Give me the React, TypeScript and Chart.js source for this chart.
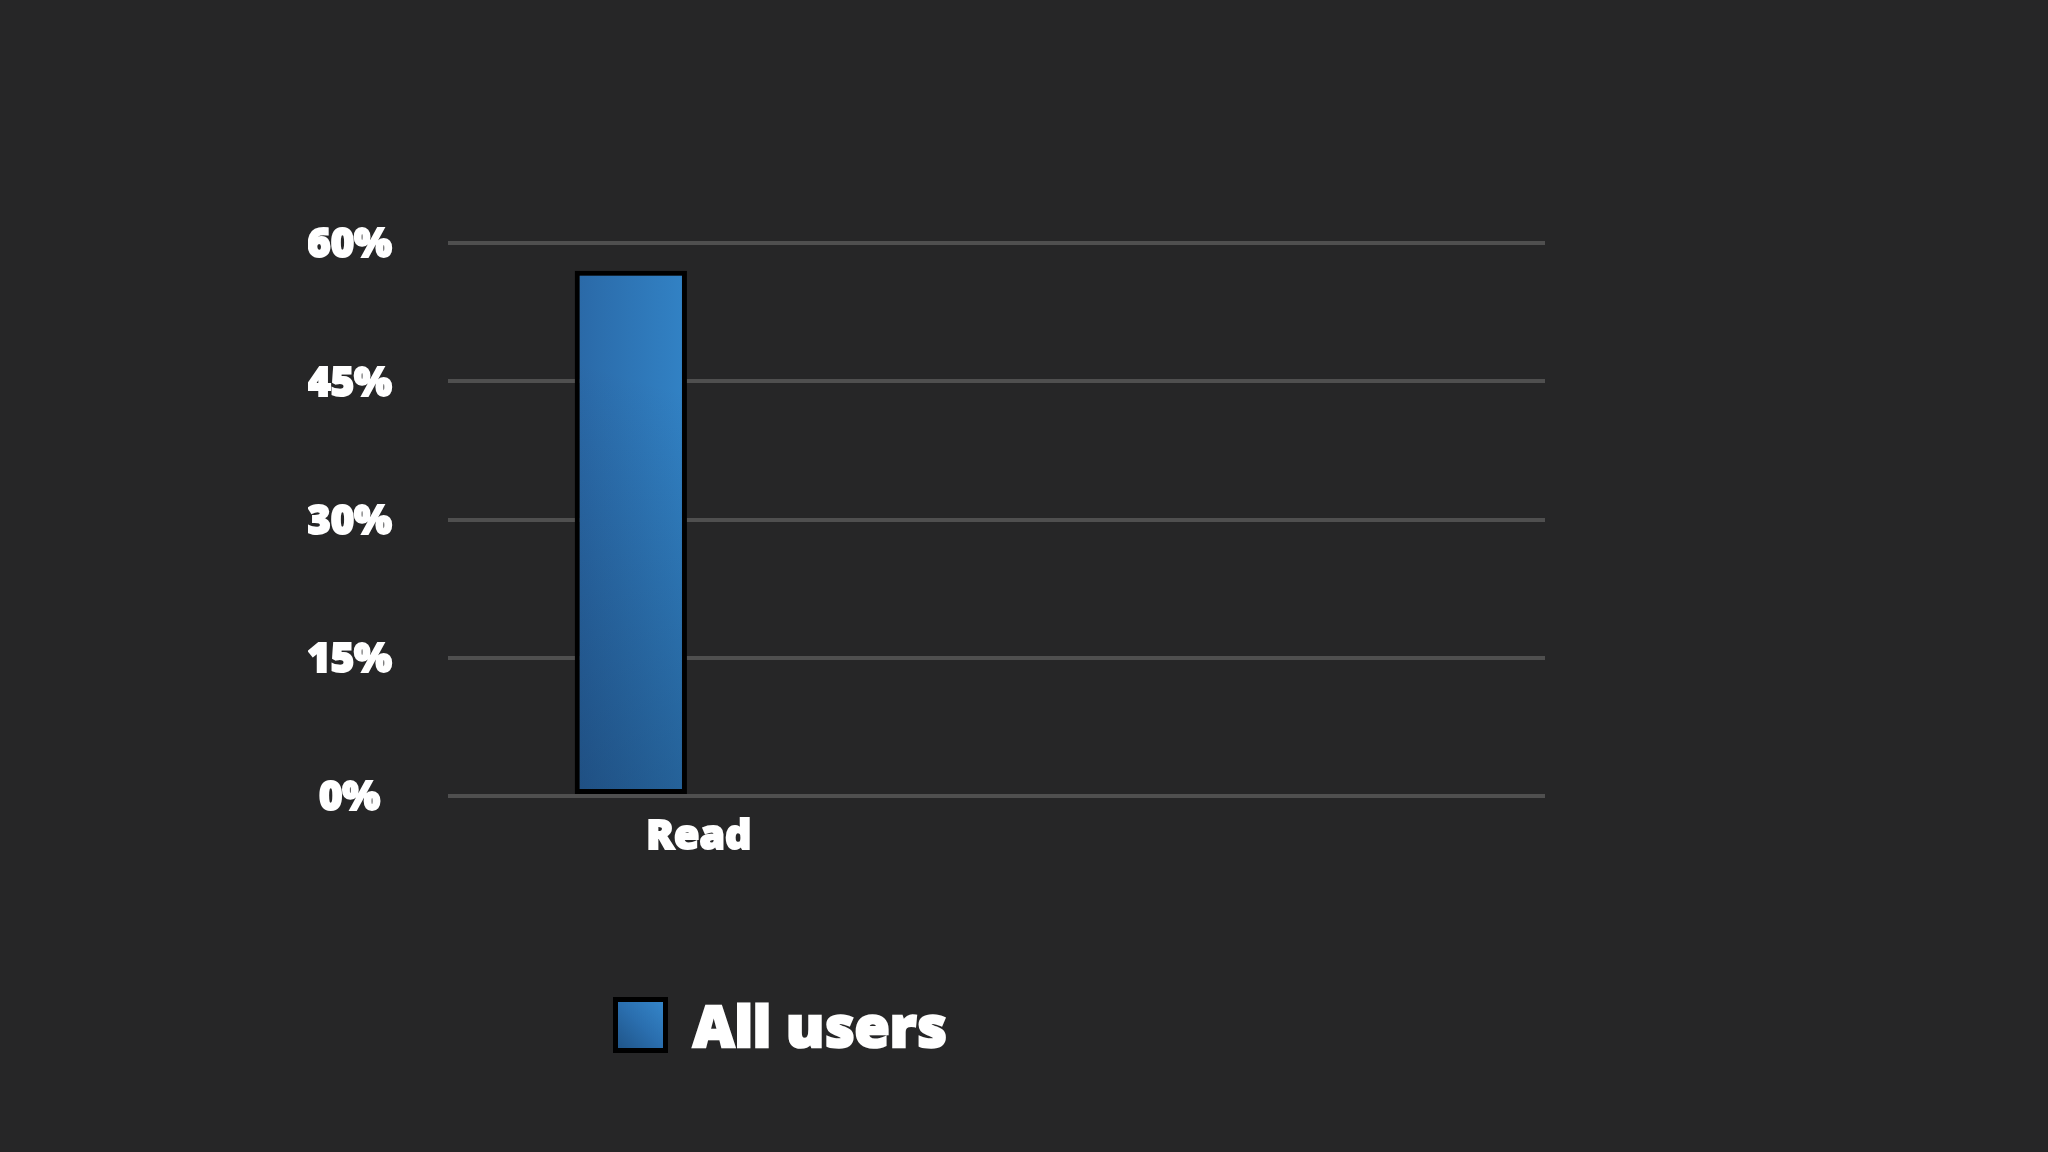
import React, { useEffect, useRef } from 'react';
import Chart from 'chart.js/auto';

// values
const categories = ['Read', '', ''];
const allUsers = [57, null, null];
const yTicks = [0, 15, 30, 45, 60];
const seriesName = 'All users';

const FONT = '"Open Sans ExtraBold", "Open Sans", "Noto Sans", sans-serif';

// blue fill: lighter to the right, darker towards the bottom left
function barPattern(chart: any, index: number) {
  const xs = chart.scales.x;
  const ys = chart.scales.y;
  if (!chart.chartArea || !xs || !ys) return '#2a6eae';
  const xc = xs.getPixelForValue(index);
  const half = (xs.width / categories.length) * 0.16;
  const top = ys.top;
  const bottom = ys.bottom;
  if (![xc, half, top, bottom].every(Number.isFinite) || half <= 0) return '#2a6eae';
  const off = document.createElement('canvas');
  off.width = chart.width;
  off.height = chart.height;
  const c = off.getContext('2d') as CanvasRenderingContext2D;
  const h = c.createLinearGradient(xc - half, 0, xc + half, 0);
  h.addColorStop(0, '#2a68a6');
  h.addColorStop(1, '#3283c6');
  c.fillStyle = h;
  c.fillRect(0, 0, off.width, off.height);
  const v = c.createLinearGradient(xc + half, top + 150, xc - half, bottom);
  v.addColorStop(0, 'rgba(10,30,60,0)');
  v.addColorStop(1, 'rgba(10,30,60,0.35)');
  c.fillStyle = v;
  c.fillRect(0, 0, off.width, off.height);
  return chart.ctx.createPattern(off, 'no-repeat');
}

function App() {
  const canvasRef = useRef<HTMLCanvasElement | null>(null);

  useEffect(() => {
    if (!canvasRef.current) return;
    const chart = new Chart(canvasRef.current, {
      type: 'bar',
      data: {
        labels: categories,
        datasets: [
          {
            label: seriesName,
            data: allUsers,
            backgroundColor: (c: any) => barPattern(c.chart, c.dataIndex),
            borderColor: '#000000',
            borderWidth: 5,
            borderSkipped: false,
            barPercentage: 0.307,
            categoryPercentage: 1,
          },
        ],
      },
      options: {
        responsive: true,
        maintainAspectRatio: false,
        animation: false,
        layout: { padding: { left: 308, right: 503, top: 243, bottom: 276 } },
        plugins: {
          legend: { display: false },
          tooltip: { enabled: false },
        },
        scales: {
          x: {
            grid: { display: false, drawTicks: false },
            border: { display: false },
            afterFit: (s: any) => {
              s.height = 80;
            },
            ticks: {
              color: '#ffffff',
              textStrokeColor: '#ffffff',
              textStrokeWidth: 2,
              font: { family: FONT, size: 41, weight: 800 },
              padding: 18,
              labelOffset: 68,
              maxRotation: 0,
            },
          },
          y: {
            min: 0,
            max: 60,
            afterFit: (s: any) => {
              s.width = 140;
            },
            afterBuildTicks: (s: any) => {
              s.ticks = yTicks.map((v) => ({ value: v }));
            },
            grid: { color: '#4f4f4f', lineWidth: 4, drawTicks: false },
            border: { display: false },
            ticks: {
              color: '#ffffff',
              textStrokeColor: '#ffffff',
              textStrokeWidth: 2,
              font: { family: FONT, size: 40, weight: 800 },
              padding: 56,
              labelOffset: 4,
              crossAlign: 'center',
              callback: (v: any) => v + '%',
            },
          },
        },
      },
    });
    chart.update();
    return () => {
      chart.destroy();
    };
  }, []);

  return (
    <div
      style={{
        position: 'fixed',
        left: 0,
        top: 0,
        width: 2048,
        height: 1152,
        background: '#262627',
        fontFamily: FONT,
      }}
    >
      <canvas ref={canvasRef}></canvas>
      <div
        style={{
          position: 'absolute',
          left: 613,
          top: 992,
          display: 'flex',
          alignItems: 'center',
        }}
      >
        <div
          style={{
            width: 45,
            height: 46,
            border: '5px solid #000',
            background: 'linear-gradient(45deg, #1f5589, #2a6eae 50%, #3485c9)',
          }}
        ></div>
        <span
          style={{
            marginLeft: 25,
            color: '#ffffff',
            fontSize: 57,
            fontWeight: 800,
            lineHeight: '66px',
            WebkitTextStroke: '2.5px #ffffff',
          }}
        >
          {seriesName}
        </span>
      </div>
    </div>
  );
}

export default App;
